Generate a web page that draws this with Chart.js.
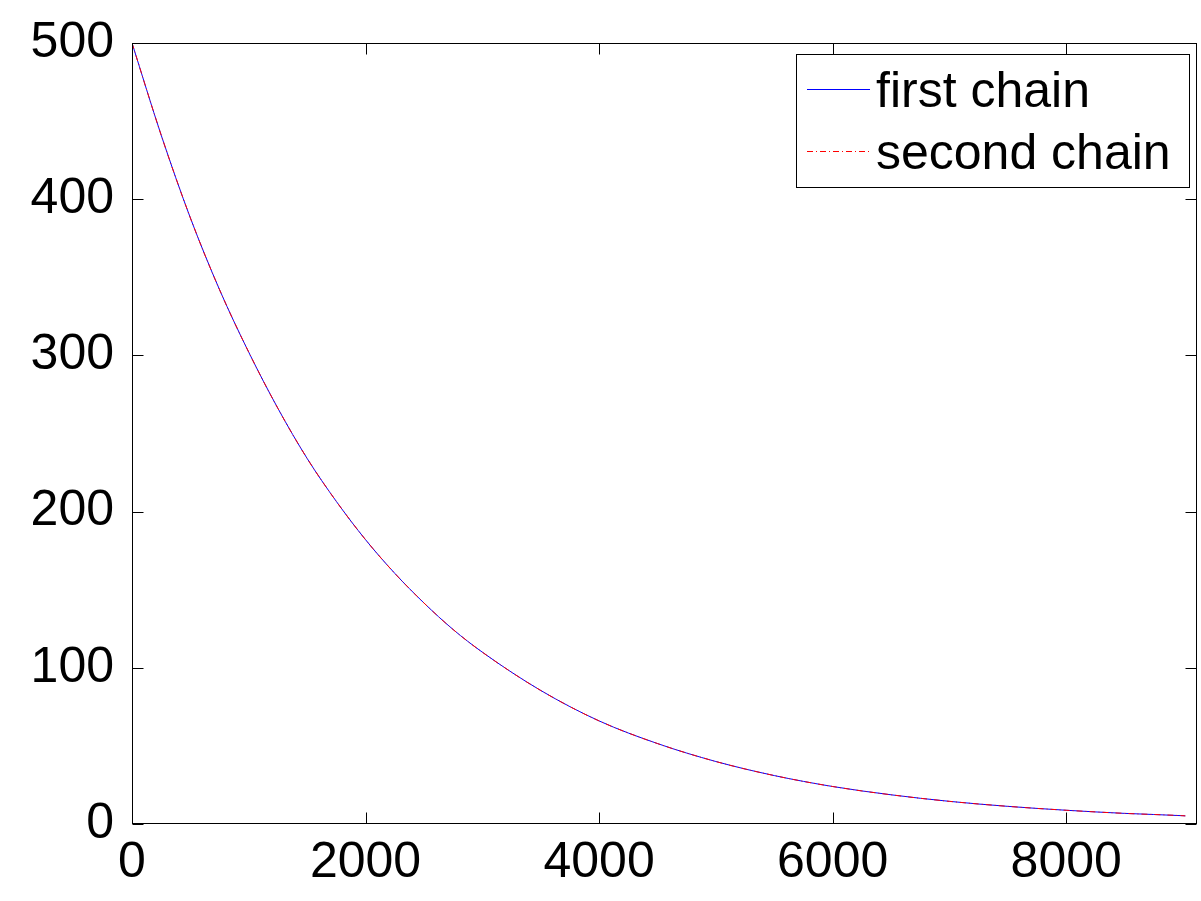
<!DOCTYPE html>
<html>
<head>
<meta charset="utf-8">
<script src="https://cdn.jsdelivr.net/npm/chart.js@4/dist/chart.umd.min.js"></script>
<style>
  html, body { margin: 0; padding: 0; background: #ffffff; }
  #wrap { width: 1201px; height: 901px; }
</style>
</head>
<body>
<div id="wrap"><canvas id="c" width="1201" height="901"></canvas></div>
<script>
// ---- data ----
const iterations = [0, 250, 500, 750, 1000, 1250, 1500, 1750, 2000, 2250, 2500, 2750, 3000,
                    3500, 4000, 4500, 5000, 5500, 6000, 6500, 7000, 7500, 8000, 8500, 9000, 9020];
const firstChain = [500, 441, 388, 342, 302, 266, 234, 206.5, 182, 160.5, 141.5, 124.5, 110,
                    85.5, 66, 51.5, 40, 31, 24, 18.7, 14.5, 11.3, 8.8, 6.8, 5.3, 5.2];
const secondChain = [500, 441, 388, 342, 302, 266, 234, 206.5, 182, 160.5, 141.5, 124.5, 110,
                     85.5, 66, 51.5, 40, 31, 24, 18.7, 14.5, 11.3, 8.8, 6.8, 5.3, 5.2];
const seriesNames = ['first chain', 'second chain'];
const xTicks = [0, 2000, 4000, 6000, 8000];
const yTicks = [0, 100, 200, 300, 400, 500];

const FONT = '"Liberation Sans", Arial, Helvetica, sans-serif';

const toPts = (xs, ys) => xs.map((x, i) => ({ x: x, y: ys[i] }));

// Inside ticks, box, and legend (MATLAB look)
const matlabAxes = {
  id: 'matlabAxes',
  afterDraw(chart) {
    const ctx = chart.ctx;
    const a = chart.chartArea;
    const xs = chart.scales.x, ys = chart.scales.y;
    const TL = 11;
    ctx.save();
    ctx.strokeStyle = '#000';
    ctx.lineWidth = 1;
    const L = Math.round(a.left) + 0.5, T = Math.round(a.top) + 0.5;
    const R = Math.round(a.right) - 0.5, B = Math.round(a.bottom) - 0.5;
    ctx.strokeRect(L, T, R - L, B - T);
    ctx.beginPath();
    xTicks.forEach(v => {
      const px = Math.round(xs.getPixelForValue(v)) + 0.5;
      ctx.moveTo(px, B); ctx.lineTo(px, B - TL);
      ctx.moveTo(px, T); ctx.lineTo(px, T + TL);
    });
    yTicks.forEach(v => {
      const py = Math.round(ys.getPixelForValue(v)) + 0.5;
      ctx.moveTo(L, py); ctx.lineTo(L + TL, py);
      ctx.moveTo(R, py); ctx.lineTo(R - TL, py);
    });
    ctx.stroke();

    // legend
    ctx.font = '50px ' + FONT;
    const boxW = 393;
    const boxH = 133;
    const right = Math.round(a.right) - 8;
    const left = right - boxW;
    const top = Math.round(a.top) + 11;
    ctx.fillStyle = '#fff';
    ctx.fillRect(left, top, boxW, boxH);
    ctx.strokeStyle = '#000';
    ctx.strokeRect(left + 0.5, top + 0.5, boxW, boxH);
    chart.data.datasets.slice().sort((p, q) => p.legendIndex - q.legendIndex).forEach((ds, i) => {
      const ly = top + 35 + i * 62 + 0.5;
      ctx.strokeStyle = ds.borderColor;
      ctx.lineWidth = 1;
      ctx.setLineDash(ds.borderDash || []);
      ctx.beginPath();
      ctx.moveTo(left + 11, ly); ctx.lineTo(left + 74, ly);
      ctx.stroke();
      ctx.setLineDash([]);
      ctx.fillStyle = '#000';
      ctx.textBaseline = 'alphabetic';
      ctx.textAlign = 'left';
      ctx.fillText(ds.label, left + 80, top + 53 + i * 62);
    });
    ctx.restore();
  }
};

new Chart(document.getElementById('c'), {
  type: 'line',
  data: {
    datasets: [
      {
        label: seriesNames[0], legendIndex: 0,
        data: toPts(iterations, firstChain),
        borderColor: '#0000ff', borderWidth: 1, pointRadius: 0,
        cubicInterpolationMode: 'monotone', fill: false, order: 1
      },
      {
        label: seriesNames[1], legendIndex: 1,
        data: toPts(iterations, secondChain),
        borderColor: '#ff0000', borderWidth: 1, pointRadius: 0,
        borderDash: [6, 3, 1, 3],
        cubicInterpolationMode: 'monotone', fill: false, order: 0
      }
    ]
  },
  options: {
    responsive: false,
    animation: false,
    devicePixelRatio: 1,
    layout: { padding: { top: 43, right: 4, left: 0, bottom: 0 } },
    plugins: { legend: { display: false }, tooltip: { enabled: false } },
    scales: {
      x: {
        type: 'linear', min: 0, max: 9120,
        afterFit(s) { s.height = 77; },
        afterBuildTicks(s) { s.ticks = xTicks.map(v => ({ value: v })); },
        grid: { display: false }, border: { display: false },
        ticks: { autoSkip: false, maxRotation: 0, padding: 1, color: '#000',
                 callback: v => String(v),
                 font: { family: FONT, size: 50 } }
      },
      y: {
        type: 'linear', min: 0, max: 500,
        afterFit(s) { s.width = 132; },
        afterBuildTicks(s) { s.ticks = yTicks.map(v => ({ value: v })); },
        grid: { display: false }, border: { display: false },
        ticks: { padding: 10, color: '#000', callback: v => String(v),
                 font: { family: FONT, size: 50 } }
      }
    }
  },
  plugins: [matlabAxes]
});
</script>
</body>
</html>
